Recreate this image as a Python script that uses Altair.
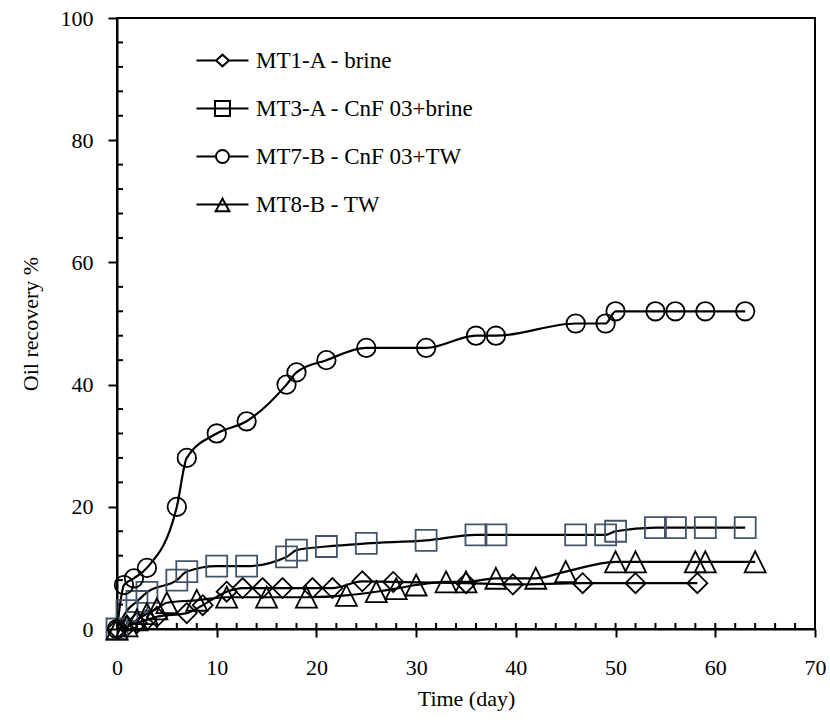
import altair as alt
import pandas as pd

FONT = "Liberation Serif"

series_names = ["MT1-A - brine", "MT3-A - CnF 03+brine", "MT7-B - CnF 03+TW", "MT8-B - TW"]

# MT1-A - brine (diamonds)
mt1_day = [0, 1, 2, 3, 4, 7, 8.6, 11, 12.6, 14.6, 16.6, 19.6, 21.6, 24.6, 27.7, 35, 39.7, 46.7, 52, 58.2]
mt1_rec = [0, 0.5, 1.0, 1.5, 2.0, 2.6, 3.9, 6.1, 6.7, 6.7, 6.7, 6.7, 6.7, 7.8, 7.7, 7.5, 7.3, 7.5, 7.5, 7.5]

# MT3-A - CnF 03+brine (squares)
mt3_day = [0, 1, 2, 3, 6, 7, 10, 13, 17, 18, 21, 25, 31, 36, 38, 46, 49, 50, 54, 56, 59, 63]
mt3_rec = [0, 3.0, 4.5, 6.0, 8.0, 9.4, 10.3, 10.3, 11.8, 12.9, 13.5, 14.0, 14.5, 15.4, 15.4, 15.4, 15.4, 16.0, 16.6, 16.6, 16.6, 16.6]

# MT7-B - CnF 03+TW (circles)
mt7_day = [0, 0.7, 1.7, 3, 6, 7, 10, 13, 17, 18, 21, 25, 31, 36, 38, 46, 49, 50, 54, 56, 59, 63]
mt7_rec = [0, 7.2, 8.3, 10.0, 20.0, 28.0, 32.0, 34.0, 40.0, 42.0, 44.0, 46.0, 46.0, 48.0, 48.0, 50.0, 50.0, 52.0, 52.0, 52.0, 52.0, 52.0]

# MT8-B - TW (triangles)
mt8_day = [0, 1, 2, 3, 4, 5, 8, 11, 15, 19, 23, 26, 28, 30, 33, 35, 38, 42, 45, 50, 52, 58, 59, 64]
mt8_rec = [0, 0.5, 1.5, 2.5, 3.3, 4.3, 4.7, 5.2, 5.2, 5.2, 5.5, 6.1, 6.6, 7.2, 7.7, 7.7, 8.3, 8.3, 9.4, 11.0, 11.0, 11.0, 11.0, 11.0]

x_major_ticks = [0, 10, 20, 30, 40, 50, 60, 70]
x_inner_ticks = list(range(2, 70, 2))
y_major_ticks = [0, 20, 40, 60, 80, 100]
y_inner_ticks = [v for v in range(4, 100, 4) if v % 20 != 0]

all_days = [mt1_day, mt3_day, mt7_day, mt8_day]
all_recs = [mt1_rec, mt3_rec, mt7_rec, mt8_rec]

rows = []
for name, days, recs in zip(series_names, all_days, all_recs):
    for d, r in zip(days, recs):
        rows.append({"series": name, "day": d, "rec": r})
df = pd.DataFrame(rows)

W, H = 698, 611

xscale = alt.Scale(domain=[0, 70], nice=False, zero=False)
yscale = alt.Scale(domain=[0, 100], nice=False, zero=False)

x_enc = alt.X("day:Q", scale=xscale, axis=alt.Axis(
    values=x_major_ticks, title="Time (day)", tickSize=8, labelPadding=20,
    labelFlush=False, labelOverlap=False, titlePadding=10, grid=False))
y_enc = alt.Y("rec:Q", scale=yscale, axis=alt.Axis(
    values=y_major_ticks, title="Oil recovery %", tickSize=9, labelPadding=15,
    labelOverlap=False, titlePadding=18, grid=False))

base = alt.Chart(df)

lines = base.mark_line(color="black", strokeWidth=2.2, interpolate="monotone").encode(
    x=x_enc, y=y_enc, detail="series:N")

marker_style = {
    "MT1-A - brine": dict(shape="diamond", size=400, color="black"),
    "MT3-A - CnF 03+brine": dict(shape="square", size=441, color="#44546A"),
    "MT7-B - CnF 03+TW": dict(shape="circle", size=340, color="black"),
    "MT8-B - TW": dict(shape="M0,-1L1,1L-1,1Z", size=440, color="black"),
}

point_layers = []
for name in series_names:
    st = marker_style[name]
    point_layers.append(
        base.transform_filter(alt.datum.series == name).mark_point(
            shape=st["shape"], size=st["size"], filled=False, stroke=st["color"],
            strokeWidth=1.8, opacity=1).encode(x=x_enc, y=y_enc)
    )

legend_paths = [
    "M-4,0H-1L0,-0.9L1,0L0,0.9L-1,0M1,0H4",
    "M-4,0H4M-1.15,-1.15H1.15V1.15H-1.15Z",
    "M-4,0H-1A1,1 0 1,1 1,0A1,1 0 1,1 -1,0M1,0H4",
    "M-4,0H4M-1.05,1.05L1.05,1.05L0,-0.9Z",
]

legend_layer = base.mark_point(opacity=0, filled=False, color="black").encode(
    x=x_enc,
    y=y_enc,
    shape=alt.Shape("series:N", scale=alt.Scale(domain=series_names, range=legend_paths),
                    legend=alt.Legend(title=None, orient="none", legendX=94, legendY=31,
                                      direction="vertical", symbolSize=169,
                                      symbolStrokeWidth=2, symbolStrokeColor="black",
                                      symbolOpacity=1, labelOffset=22, rowPadding=24,
                                      labelLimit=0,
                                      labelFont=FONT, labelFontSize=23, labelColor="black"))
)

xt = pd.DataFrame({"day": x_inner_ticks})
yt = pd.DataFrame({"rec": y_inner_ticks})
x_inner = alt.Chart(xt).mark_rule(color="black", strokeWidth=2).encode(
    x=x_enc, y=alt.value(H), y2=alt.value(H - 6))
y_inner = alt.Chart(yt).mark_rule(color="black", strokeWidth=2).encode(
    y=y_enc, x=alt.value(0), x2=alt.value(6))

chart = alt.layer(x_inner, y_inner, lines, *point_layers, legend_layer).properties(
    width=W, height=H,
    background="white",
    autosize=alt.AutoSizeParams(type="none"),
    padding={"left": 117, "top": 18, "right": 15, "bottom": 94},
).configure_view(stroke="black", strokeWidth=2).configure_axis(
    labelFont=FONT, labelFontSize=22, labelColor="black",
    titleFont=FONT, titleFontSize=22, titleColor="black", titleFontWeight="normal",
    domainColor="black", domainWidth=2, tickColor="black", tickWidth=2,
)

chart.save("out.html", embed_options={"renderer": "svg", "actions": False})
